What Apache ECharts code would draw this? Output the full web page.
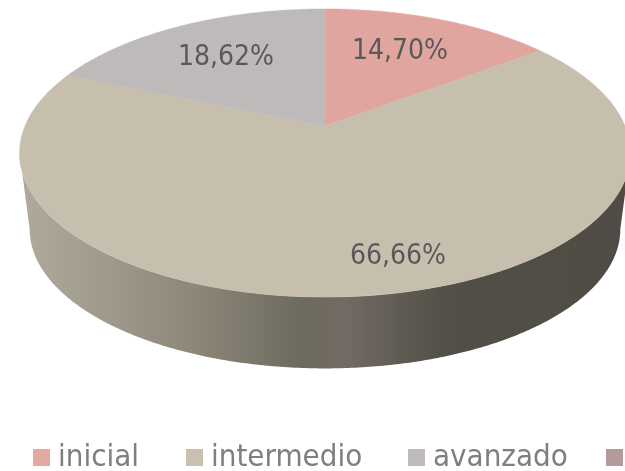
<!DOCTYPE html>
<html><head><meta charset="utf-8">
<script src="https://cdn.jsdelivr.net/npm/echarts@6/dist/echarts.min.js"></script>
<style>html,body{margin:0;padding:0;background:#fff;overflow:hidden}#c{width:625px;height:471px}</style>
</head><body><div id="c"></div>
<script>
const categories = ['inicial','intermedio','avanzado','experto'];
const values = [14.70,66.66,18.62,0];
const valueLabels = ['14,70%','66,66%','18,62%',''];
const sliceColors = ['#E0A59E','#C6BFAE','#BEBABA','#B39C97'];
const legendColors = ['#E6A9A2','#CBC0AF','#C0BBBB','#B39C97'];
const labelCentres = [[400,52],[398,257],[226,58],[0,0]];
const legendLefts = [33,186,408,606];

const CX=325, TOPY=126, R=300, K=139, P=0.1875, BOTY=203, BSCALE=0.967;
const FONT='"DejaVu Sans Condensed","DejaVu Sans"';
const total = values.reduce((a,b)=>a+b,0);
const rim=(t,cy,s)=>{const w=1+P*Math.cos(t);return [CX+s*R*Math.sin(t)/w, cy-s*K*Math.cos(t)/w];};
const arc=(a,b,cy,s)=>{const n=Math.max(2,Math.ceil(Math.abs(b-a)/0.01));const o=[];for(let i=0;i<=n;i++)o.push(rim(a+(b-a)*i/n,cy,s));return o;};
const starts=[];values.reduce((acc,v,i)=>{starts[i]=acc;return acc+v;},0);

function sliceItem(i){
  return function(){
    const a=starts[i]/total*2*Math.PI,b=(starts[i]+values[i])/total*2*Math.PI;
    const children=[];
    if(values[i]>0)children.push({type:'polygon',shape:{points:[[CX,TOPY],...arc(a,b,TOPY,1)]},style:{fill:sliceColors[i],stroke:sliceColors[i],lineWidth:0.5}});
    if(valueLabels[i])children.push({type:'text',z2:10,style:{text:valueLabels[i],x:labelCentres[i][0],y:labelCentres[i][1],align:'center',verticalAlign:'middle',font:'28px '+FONT,fill:'#595959'}});
    return {type:'group',children};
  };
}
function wallItem(){
  const t0=Math.acos(-P),t1=2*Math.PI-t0;
  const pts=[...arc(t0,t1,TOPY,1),...arc(t1,t0,BOTY,BSCALE)];
  return {type:'polygon',shape:{points:pts},style:{fill:new echarts.graphic.LinearGradient(0,0,1,0,[
    {offset:0,color:'#B0AA9D'},{offset:.13,color:'#A19B8D'},{offset:.295,color:'#8C8678'},{offset:.459,color:'#6D6A60'},{offset:.533,color:'#736A63'},{offset:.623,color:'#5F5B53'},{offset:.705,color:'#524F47'},{offset:1,color:'#4F4C45'}])}};
}
const series=[{type:'custom',name:'wall',coordinateSystem:'none',silent:true,animation:false,data:[0],renderItem:wallItem,z:1}];
categories.forEach((n,i)=>series.push({type:'custom',name:n,coordinateSystem:'none',silent:true,animation:false,data:[values[i]],renderItem:sliceItem(i),itemStyle:{color:legendColors[i]},z:2}));

const chart=echarts.init(document.getElementById('c'),null,{renderer:'canvas'});
chart.setOption({animation:false,backgroundColor:'#fff',
  legend:categories.map((n,i)=>({data:[n],left:legendLefts[i],top:442,width:400,itemWidth:17,itemHeight:17,icon:'rect',selectedMode:false,padding:0,
    textStyle:{color:'#7F7F7F',fontFamily:FONT,fontSize:31,padding:[0,0,0,3]}})),
  series});
</script></body></html>
